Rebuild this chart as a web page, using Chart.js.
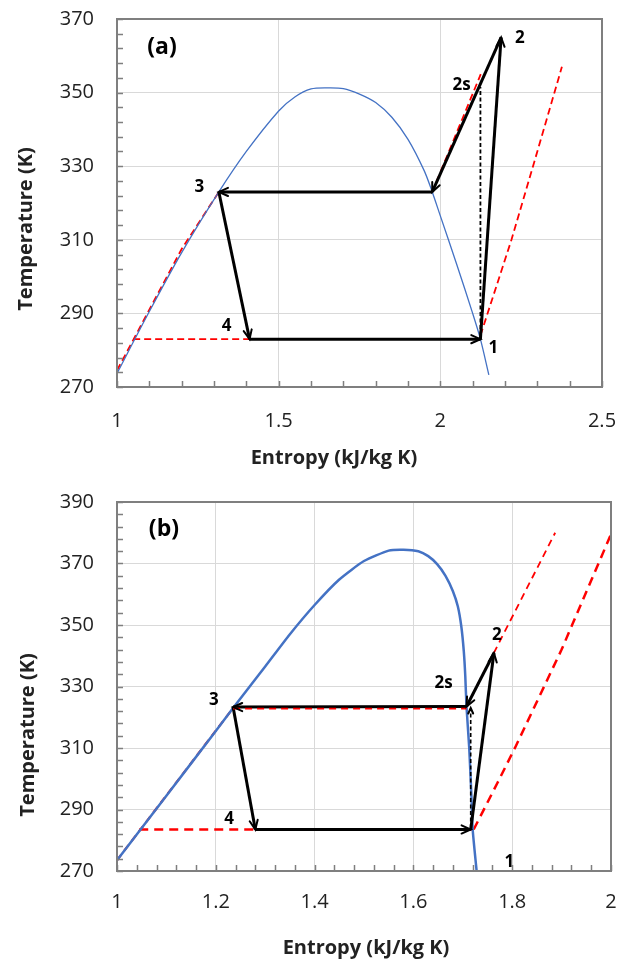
<!DOCTYPE html>
<html>
<head>
<meta charset="utf-8">
<script src="https://cdn.jsdelivr.net/npm/chart.js@4.4.0/dist/chart.umd.min.js"></script>
<style>
  body { margin: 0; background: #fff; overflow: hidden; }
  canvas { position: absolute; left: 0; }
  #ca { top: 0; }
  #cb { top: 480px; }
</style>
</head>
<body>
<canvas id="ca" width="627" height="480"></canvas>
<canvas id="cb" width="627" height="482"></canvas>
<script>
// ---------- (a) ----------
const domeA_s = [1.0, 1.1, 1.2, 1.315, 1.4, 1.5, 1.55, 1.6, 1.65, 1.7, 1.75, 1.8, 1.85, 1.9, 1.95, 1.975, 2.0, 2.05, 2.1, 2.124, 2.15];
const domeA_T = [273.7, 290.5, 306.5, 323, 334, 345, 348.8, 351, 351.3, 351.1, 349.6, 347.3, 343.3, 337.3, 328.8, 323, 316.5, 303.5, 290, 283, 273.3];
const liqA_s = [1.0, 1.2, 1.315];
const liqA_T = [274.5, 307.5, 323];
const evapA_s = [1.05, 1.41];
const evapA_T = [283, 283];
const lowA_s = [2.124, 2.22, 2.3, 2.376];
const lowA_T = [284, 310, 334, 357];
const highA_s = [1.975, 2.125];
const highA_T = [323, 355];
// cycle 4 -> 1 -> 2 -> sat. vapour -> 3 -> 4
const cycleA_s = [1.41, 2.124, 2.188, 1.975, 1.315, 1.41];
const cycleA_T = [283, 283, 365, 323, 323, 283];
const isenA_s = [2.124, 2.124];
const isenA_T = [284, 351.5];
const labelsA = ['(a)', '2', '2s', '3', '4', '1'];
const labelsA_s = [1.139, 2.246, 2.066, 1.255, 1.339, 2.164];
const labelsA_T = [362.4, 364.8, 352.1, 324.4, 286.6, 280.5];

// ---------- (b) ----------
const domeB_s = [1.0, 1.1, 1.2, 1.235, 1.3, 1.35, 1.4, 1.45, 1.5, 1.55, 1.58, 1.61, 1.63, 1.648, 1.665, 1.68, 1.69, 1.697, 1.702, 1.705, 1.7075, 1.713, 1.717, 1.72, 1.728];
const domeB_T = [273.5, 294.5, 315.5, 323, 336.5, 347, 356.5, 364.8, 370.8, 374.2, 374.5, 374, 372.4, 369.8, 366, 361, 356, 349.5, 341.5, 333.5, 323.5, 310, 296, 283.5, 270];
const liqB_s = [1.0, 1.235];
const liqB_T = [273.5, 323];
const evapB_s = [1.045, 1.722];
const evapB_T = [283.5, 283.5];
const condB_s = [1.235, 1.7075];
const condB_T = [322.8, 322.8];
const highB_s = [1.7075, 1.887];
const highB_T = [323.5, 380];
const lowB_s = [1.722, 1.77, 1.807, 1.9, 1.965, 2.0];
const lowB_T = [283.5, 298.6, 310.5, 342, 366.4, 379.5];
const cycleB_s = [1.28, 1.716, 1.763, 1.7075, 1.235, 1.28];
const cycleB_T = [283.5, 283.5, 340.9, 323.5, 323.3, 283.5];
const isenB_s = [1.716, 1.716];
const isenB_T = [284, 323];
const labelsB = ['(b)', '2', '2s', '3', '4', '1'];
const labelsB_s = [1.095, 1.769, 1.661, 1.196, 1.227, 1.794];
const labelsB_T = [381.2, 346.7, 331.0, 325.6, 286.9, 272.9];

const BLUE = '#4472C4', RED = '#FF0000';
const FONT = '"Open Sans", sans-serif';

function pts(s, T) { return s.map((v, i) => ({ x: v, y: T[i] })); }

function line(s, T, color, width, dash, extra) {
  return Object.assign({
    data: pts(s, T), borderColor: color, borderWidth: width, borderDash: dash || [],
    showLine: true, pointRadius: 0, tension: 0, fill: false
  }, extra || {});
}

function cycle(s, T) {
  const out = [];
  for (let i = 0; i < s.length - 1; i++) {
    out.push(line([s[i], s[i + 1]], [T[i], T[i + 1]], '#000', 3, [], { arrow: true }));
  }
  return out;
}

// open V arrowheads at the last point of a dataset
const arrows = {
  id: 'arrows',
  afterDatasetsDraw(chart) {
    const ctx = chart.ctx;
    ctx.save();
    ctx.strokeStyle = '#000';
    ctx.lineWidth = 2;
    ctx.lineCap = 'round';
    chart.data.datasets.forEach((ds, i) => {
      if (!ds.arrow) return;
      const d = chart.getDatasetMeta(i).data;
      const p = d[d.length - 1], q = d[d.length - 2];
      const a = Math.atan2(p.y - q.y, p.x - q.x), L = ds.arrowLen || 10, h = 0.42;
      ctx.beginPath();
      ctx.moveTo(p.x - L * Math.cos(a - h), p.y - L * Math.sin(a - h));
      ctx.lineTo(p.x, p.y);
      ctx.lineTo(p.x - L * Math.cos(a + h), p.y - L * Math.sin(a + h));
      ctx.stroke();
    });
    ctx.restore();
  }
};

// plot frame, inward minor ticks, state labels, axis titles
const decor = {
  id: 'decor',
  afterDraw(chart, args, opts) {
    const { ctx, chartArea: a, scales: { x, y } } = chart;
    ctx.save();
    ctx.strokeStyle = '#7f7f7f';
    ctx.lineWidth = 1.5;
    ctx.beginPath();
    x.ticks.forEach(t => {
      const px = Math.round(x.getPixelForValue(t.value)) + 0.5;
      ctx.moveTo(px, a.bottom); ctx.lineTo(px, a.bottom - 6);
    });
    y.ticks.forEach(t => {
      const py = Math.round(y.getPixelForValue(t.value)) + 0.5;
      ctx.moveTo(a.left, py); ctx.lineTo(a.left + 6, py);
    });
    ctx.stroke();
    ctx.lineWidth = 2;
    ctx.strokeRect(a.left, a.top, a.width, a.height);

    ctx.fillStyle = '#000';
    ctx.textAlign = 'center';
    ctx.textBaseline = 'middle';
    opts.text.forEach((t, i) => {
      ctx.font = (i === 0 ? 'bold 23px ' : 'bold 17px ') + FONT;
      ctx.fillText(t, x.getPixelForValue(opts.s[i]), y.getPixelForValue(opts.T[i]));
    });

    ctx.fillStyle = '#222';
    ctx.font = 'bold 20px ' + FONT;
    ctx.fillText('Entropy (kJ/kg K)', opts.xTitle[0], opts.xTitle[1]);
    ctx.translate(opts.yTitle[0], opts.yTitle[1]);
    ctx.rotate(-Math.PI / 2);
    ctx.fillText('Temperature (K)', 0, 0);
    ctx.restore();
  }
};

function makeChart(id, datasets, xr, yr, box, labels) {
  const near = (v, m) => Math.abs(v / m - Math.round(v / m)) < 1e-6;
  return new Chart(document.getElementById(id), {
    type: 'scatter',
    data: { datasets },
    plugins: [arrows, decor],
    options: {
      responsive: false,
      animation: false,
      layout: { padding: { top: box.top, right: box.right, left: 0, bottom: 0 } },
      plugins: {
        legend: { display: false },
        tooltip: { enabled: false },
        decor: labels
      },
      scales: {
        x: {
          type: 'linear', min: xr[0], max: xr[1],
          // fixed axis box, no label overflow padding
          afterFit: s => { s.height = box.xh; s.paddingLeft = 0; s.paddingRight = 0; },
          grid: {
            drawTicks: false,
            color: c => near(c.tick.value - xr[0], xr[3]) ? '#d9d9d9' : 'rgba(0,0,0,0)'
          },
          border: { display: false },
          ticks: {
            stepSize: xr[2], autoSkip: false, maxRotation: 0, padding: box.xpad,
            color: '#222', font: { family: FONT, size: 20 },
            callback: v => near(v - xr[0], xr[3]) ? String(Math.round(v * 10) / 10) : ''
          }
        },
        y: {
          type: 'linear', min: yr[0], max: yr[1],
          afterFit: s => { s.width = 117; s.paddingTop = 0; s.paddingBottom = 0; },
          grid: {
            drawTicks: false,
            color: c => (c.tick.value - yr[0]) % yr[3] === 0 ? '#d9d9d9' : 'rgba(0,0,0,0)'
          },
          border: { display: false },
          ticks: {
            stepSize: yr[2], autoSkip: false, padding: 23,
            color: '#222', font: { family: FONT, size: 20 },
            callback: v => (v - yr[0]) % yr[3] === 0 ? String(v) : ''
          }
        }
      }
    }
  });
}

makeChart('ca', [
  ...cycle(cycleA_s, cycleA_T),
  line(isenA_s, isenA_T, '#000', 1.8, [4, 2.5]),
  line(domeA_s, domeA_T, BLUE, 1.3, [], { tension: 0.3 }),
  line(liqA_s, liqA_T, RED, 1.8, [7, 4]),
  line(evapA_s, evapA_T, RED, 1.8, [7, 4]),
  line(lowA_s, lowA_T, RED, 1.8, [7, 4]),
  line(highA_s, highA_T, RED, 1.8, [7, 4])
], [1, 2.5, 0.1, 0.5], [270, 370, 4, 20], { top: 19, right: 25, xh: 93, xpad: 22 }, {
  text: labelsA, s: labelsA_s, T: labelsA_T, xTitle: [334, 458], yTitle: [26, 229]
});

makeChart('cb', [
  line(condB_s, condB_T, RED, 1.8, [7, 5]),
  ...cycle(cycleB_s, cycleB_T),
  line(isenB_s, isenB_T, '#000', 1.6, [4, 2.5], { arrow: true, arrowLen: 6 }),
  line(domeB_s, domeB_T, BLUE, 2.5, [], { tension: 0.2 }),
  line(liqB_s, liqB_T, RED, 2.2, [7, 5]),
  line(evapB_s, evapB_T, RED, 2.4, [9, 6]),
  line(highB_s, highB_T, RED, 1.8, [7, 5]),
  line(lowB_s, lowB_T, RED, 2.5, [9, 6])
], [1, 2, 0.04, 0.2], [270, 390, 4, 20], { top: 22, right: 16, xh: 91, xpad: 19 }, {
  text: labelsB, s: labelsB_s, T: labelsB_T, xTitle: [366, 468], yTitle: [28, 255]
});
</script>
</body>
</html>
